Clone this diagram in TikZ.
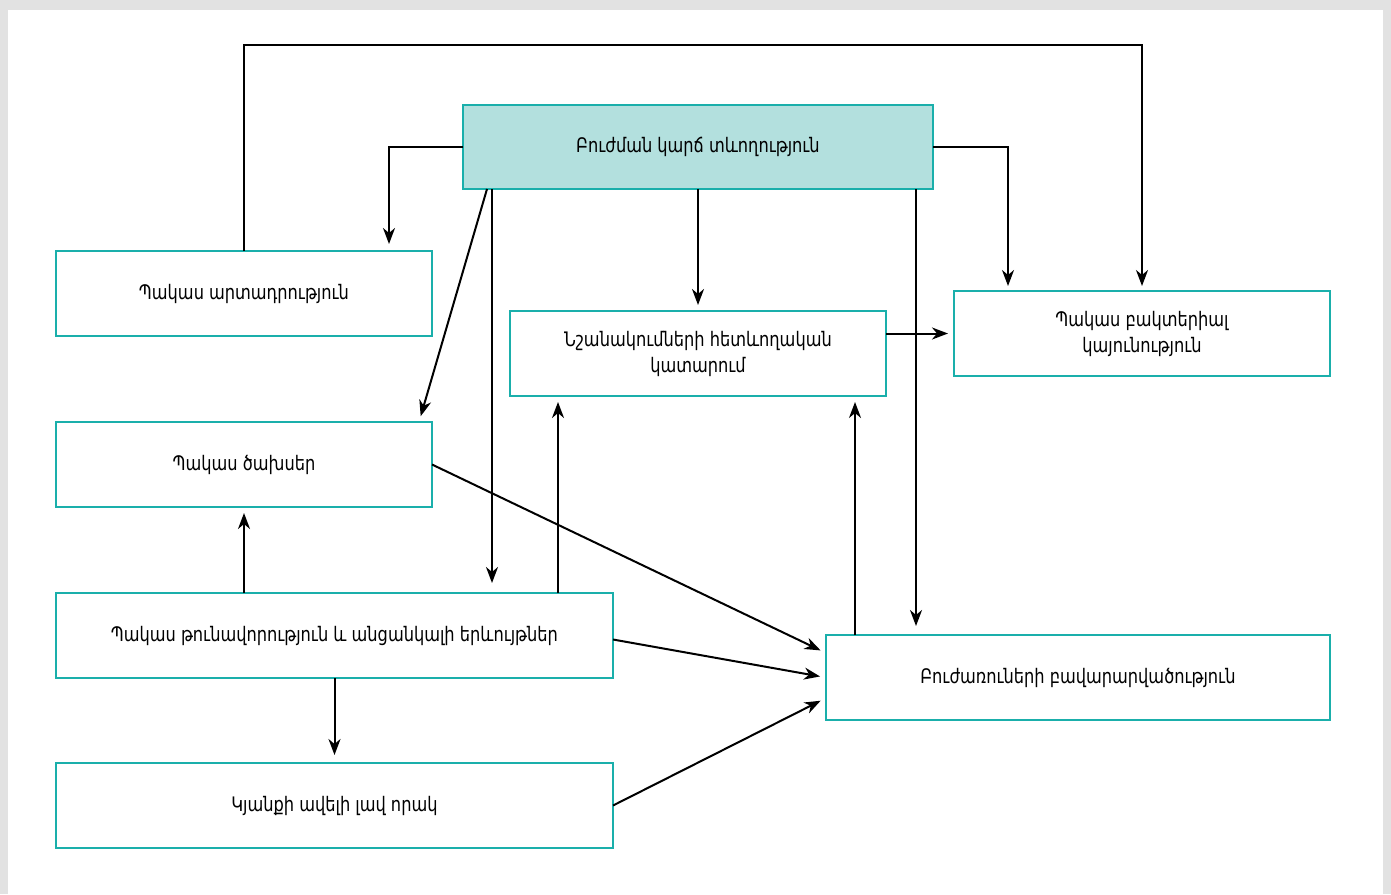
\documentclass[tikz,border=0pt]{standalone}
\usepackage{fontspec}
\setmainfont{DejaVu Sans Condensed}[FakeStretch=0.9]
\usetikzlibrary{arrows.meta,calc}
\definecolor{tealb}{HTML}{1AAFAB}
\definecolor{tealf}{HTML}{B3E0DE}
\definecolor{frame}{HTML}{E2E2E2}
\begin{document}
\begin{tikzpicture}[x=1pt,y=-1pt,
 box/.style={draw=tealb,line width=2.4pt,fill=white,inner sep=2pt,outer sep=0pt,align=center,font=\fontsize{20}{26}\selectfont},
 arr/.style={line width=2pt,-{Stealth[length=16pt,width=12pt,inset=5pt]}}]
\fill[frame] (0,0) rectangle (1391,894);
\fill[white] (8,10) rectangle (1383,894);
\useasboundingbox (0,0) rectangle (1391,894);

\node[box,fill=tealf,minimum width=470pt,minimum height=84pt] (A) at (698,147) {Բուժման կարճ տևողություն};
\node[box,minimum width=376pt,minimum height=85pt] (B) at (244,293.5) {Պակաս արտադրություն};
\node[box,minimum width=376pt,minimum height=85pt] (C) at (698,353.5) {Նշանակումների հետևողական\\կատարում};
\node[box,minimum width=376pt,minimum height=85pt] (D) at (1142,333.5) {Պակաս բակտերիալ\\կայունություն};
\node[box,minimum width=376pt,minimum height=85pt] (E) at (244,464.5) {Պակաս ծախսեր};
\node[box,minimum width=557pt,minimum height=85pt] (F) at (334.5,635.5) {Պակաս թունավորություն և անցանկալի երևույթներ};
\node[box,minimum width=504pt,minimum height=85pt] (G) at (1078,677.5) {Բուժառուների բավարարվածություն};
\node[box,minimum width=557pt,minimum height=85pt] (H) at (334.5,805.5) {Կյանքի ավելի լավ որակ};

\draw[arr,shorten >=5pt] (B.north) -- ++(0,-206) -| (D.north);
\draw[arr,shorten >=7pt] (A.west) -| ([xshift=-43pt]B.north east);
\draw[arr,shorten >=5pt] (A.east) -| ([xshift=54pt]D.north west);
\draw[arr,shorten >=6pt] (A.south) -- (C.north);
\draw[arr,shorten >=6pt] ([xshift=24pt]A.south west) -- ([xshift=363pt]E.north west);
\draw[arr,shorten >=10pt] ([xshift=29pt]A.south west) -- ([xshift=29pt]A.south west |- F.north);
\draw[arr,shorten >=9pt] ([xshift=-17pt]A.south east) -- ([xshift=-17pt]A.south east |- G.north);
\draw[arr,shorten >=6pt] (C.east |- D.west) -- (D.west);
\draw[arr,shorten >=6pt] ([xshift=-55pt]F.north east) -- ([xshift=-55pt]F.north east |- C.south);
\draw[arr,shorten >=6pt] ([xshift=29pt]G.north west) -- ([xshift=29pt]G.north west |- C.south);
\draw[arr,shorten >=6pt] (F.north -| E.south) -- (E.south);
\draw[arr,shorten >=6pt] (E.east) -- ([yshift=-18pt]G.north west);
\draw[arr,shorten >=6pt] ([yshift=-4pt]F.east) -- (G.west);
\draw[arr,shorten >=8pt] (F.south) -- (H.north);
\draw[arr,shorten >=6pt] (H.east) -- ([yshift=22pt]G.south west);
\end{tikzpicture}
\end{document}
